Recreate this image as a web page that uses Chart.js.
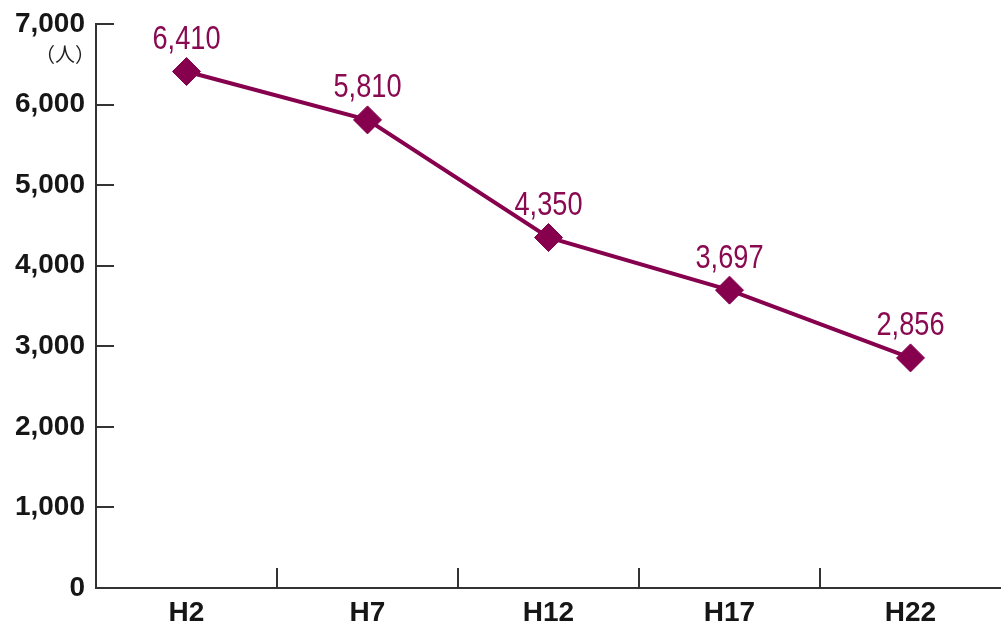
<!DOCTYPE html>
<html>
<head>
<meta charset="utf-8">
<script src="https://cdn.jsdelivr.net/npm/chart.js@4/dist/chart.umd.min.js"></script>
<style>
  html, body { margin: 0; padding: 0; background: #ffffff; }
  canvas { display: block; }
</style>
</head>
<body>
<canvas id="chart" width="1001" height="625"></canvas>
<script>
// Census years (Heisei era) and population counts
const categories = ['H2', 'H7', 'H12', 'H17', 'H22'];
const population = [6410, 5810, 4350, 3697, 2856];
const yTickValues = [0, 1000, 2000, 3000, 4000, 5000, 6000, 7000];
const unitLabel = '（人）';

const LINE_COLOR = '#86004e';
const LABEL_COLOR = '#8a0a52';
const AXIS_COLOR = '#333333';
const TEXT_COLOR = '#161616';

const tickFont = { family: "'Liberation Sans', Arial, sans-serif", size: 28, weight: 'bold' };

// Short inward ticks on both axes
const innerTicks = {
  id: 'innerTicks',
  afterDraw(chart) {
    const { ctx, chartArea, scales } = chart;
    ctx.save();
    ctx.strokeStyle = AXIS_COLOR;
    ctx.lineWidth = 2;
    ctx.beginPath();
    scales.y.ticks.forEach(t => {
      if (t.value === 0) return;
      const y = Math.round(scales.y.getPixelForValue(t.value));
      ctx.moveTo(chartArea.left, y);
      ctx.lineTo(chartArea.left + 18, y);
    });
    for (let i = 1; i < categories.length; i++) {
      const x = Math.round((scales.x.getPixelForValue(i - 1) + scales.x.getPixelForValue(i)) / 2);
      ctx.moveTo(x, chartArea.bottom);
      ctx.lineTo(x, chartArea.bottom - 20);
    }
    ctx.stroke();

    // unit caption under the top tick label
    ctx.fillStyle = '#222222';
    ctx.font = "20px 'Noto Sans CJK JP', sans-serif";
    ctx.textAlign = 'center';
    ctx.textBaseline = 'middle';
    ctx.fillText(unitLabel, 65, 54);
    ctx.restore();
  }
};

// Value labels above each point, in a condensed face
const valueLabels = {
  id: 'valueLabels',
  afterDatasetsDraw(chart) {
    const { ctx } = chart;
    const meta = chart.getDatasetMeta(0);
    ctx.save();
    ctx.fillStyle = LABEL_COLOR;
    ctx.font = "34px 'Liberation Sans', Arial, sans-serif";
    ctx.textAlign = 'center';
    ctx.textBaseline = 'middle';
    meta.data.forEach((pt, i) => {
      const text = population[i].toLocaleString('en-US');
      ctx.save();
      ctx.translate(pt.x, pt.y - 32);
      ctx.scale(0.8, 1);
      ctx.fillText(text, 0, 0);
      ctx.restore();
    });
    ctx.restore();
  }
};

new Chart(document.getElementById('chart'), {
  type: 'line',
  data: {
    labels: categories,
    datasets: [{
      data: population,
      borderColor: LINE_COLOR,
      backgroundColor: LINE_COLOR,
      borderWidth: 4,
      pointStyle: 'rectRot',
      pointRadius: 14,
      pointHoverRadius: 14,
      pointBorderWidth: 1,
      pointBackgroundColor: LINE_COLOR,
      pointBorderColor: LINE_COLOR,
      tension: 0,
      fill: false
    }]
  },
  options: {
    responsive: false,
    animation: false,
    devicePixelRatio: 1,
    layout: { autoPadding: false, padding: { top: 24, right: 0, bottom: 0, left: 0 } },
    plugins: {
      legend: { display: false },
      tooltip: { enabled: false }
    },
    scales: {
      x: {
        offset: true,
        grid: { display: true, drawOnChartArea: false, drawTicks: false, offset: true },
        border: { display: true, color: AXIS_COLOR, width: 2 },
        ticks: { padding: 8, color: TEXT_COLOR, font: tickFont, maxRotation: 0 },
        afterFit(scale) {
          scale.height = 37;
          scale.paddingLeft = 0;
          scale.paddingRight = 0;
        }
      },
      y: {
        min: 0,
        max: 7000,
        afterBuildTicks(scale) { scale.ticks = yTickValues.map(v => ({ value: v })); },
        grid: { display: true, drawOnChartArea: false, drawTicks: false },
        border: { display: true, color: AXIS_COLOR, width: 2 },
        ticks: {
          padding: 11,
          color: TEXT_COLOR,
          font: tickFont,
          callback: v => v.toLocaleString('en-US')
        },
        afterFit(scale) {
          scale.width = 96;
          scale.paddingTop = 0;
          scale.paddingBottom = 0;
        }
      }
    }
  },
  plugins: [innerTicks, valueLabels]
});
</script>
</body>
</html>
